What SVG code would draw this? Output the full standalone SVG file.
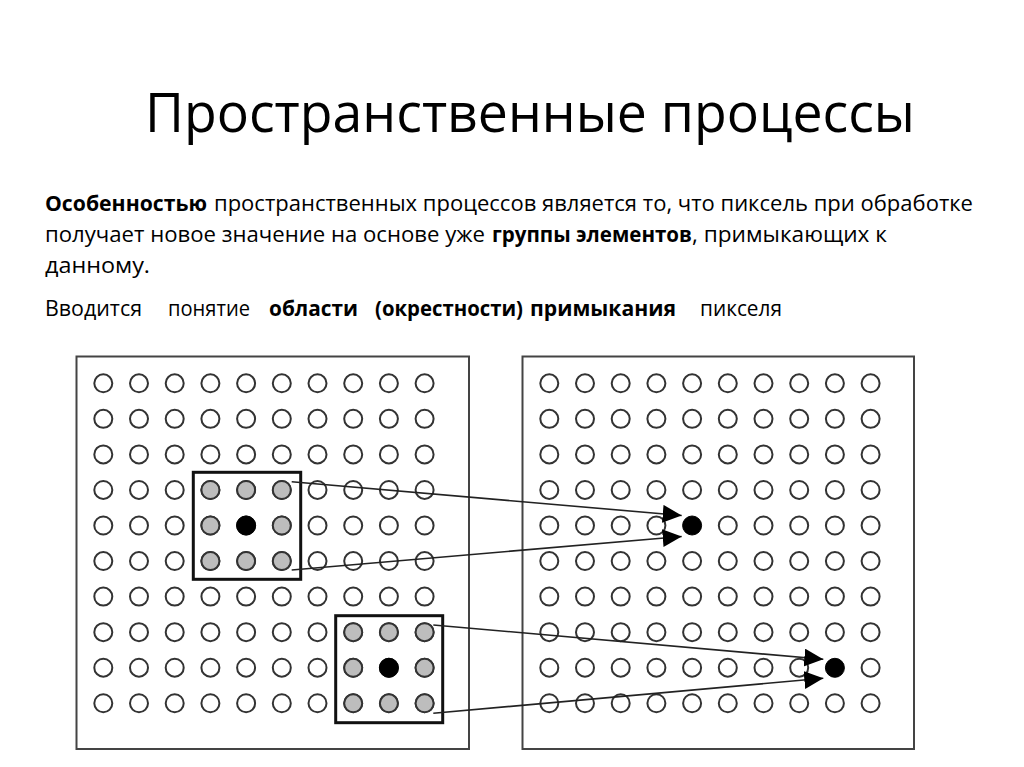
<svg xmlns="http://www.w3.org/2000/svg" xmlns:xlink="http://www.w3.org/1999/xlink" width="1024" height="767" viewBox="0 0 1024 767">
<style>
.t{font-family:"Open Sans","Noto Sans","Liberation Sans",sans-serif;fill:#000}
.title{font-size:55px}
.b{font-size:21px}
.bold{font-weight:bold}
.p{fill:#fff;stroke:#333;stroke-width:2}
.g{fill:#bdbdbd;stroke:#333;stroke-width:2}
.k{fill:#000;stroke:#000;stroke-width:1}
.frame{fill:none;stroke:#444;stroke-width:2}
.win{fill:none;stroke:#111;stroke-width:3}
.c{stroke:#222;stroke-width:1.6;fill:none;marker-end:url(#ah)}
</style>
<defs>
<marker id="ah" markerUnits="userSpaceOnUse" markerWidth="22" markerHeight="20" refX="19" refY="9" orient="auto">
<path d="M0,0 L19,9 L0,18 z" fill="#000"/>
</marker>
<g id="row">
<circle class="p" cx="0" cy="0" r="9"/>
<circle class="p" cx="35.7" cy="0" r="9"/>
<circle class="p" cx="71.4" cy="0" r="9"/>
<circle class="p" cx="107.1" cy="0" r="9"/>
<circle class="p" cx="142.8" cy="0" r="9"/>
<circle class="p" cx="178.5" cy="0" r="9"/>
<circle class="p" cx="214.2" cy="0" r="9"/>
<circle class="p" cx="249.9" cy="0" r="9"/>
<circle class="p" cx="285.6" cy="0" r="9"/>
<circle class="p" cx="321.3" cy="0" r="9"/>
</g>
<g id="grid">
<use xlink:href="#row" href="#row" x="0" y="0"/>
<use xlink:href="#row" href="#row" x="0" y="35.55"/>
<use xlink:href="#row" href="#row" x="0" y="71.1"/>
<use xlink:href="#row" href="#row" x="0" y="106.65"/>
<use xlink:href="#row" href="#row" x="0" y="142.2"/>
<use xlink:href="#row" href="#row" x="0" y="177.75"/>
<use xlink:href="#row" href="#row" x="0" y="213.3"/>
<use xlink:href="#row" href="#row" x="0" y="248.85"/>
<use xlink:href="#row" href="#row" x="0" y="284.4"/>
<use xlink:href="#row" href="#row" x="0" y="319.95"/>
</g>
</defs>
<rect width="1024" height="767" fill="#fff"/>

<g id="title">
<text class="t title" x="145" y="132" textLength="770" lengthAdjust="spacingAndGlyphs">Пространственные процессы</text>
</g>

<g id="body">
<text class="t b bold" x="45" y="211" textLength="162" lengthAdjust="spacingAndGlyphs">Особенностью</text>
<text class="t b" x="214" y="211" textLength="759" lengthAdjust="spacingAndGlyphs">пространственных процессов является то, что пиксель при обработке</text>
<text class="t b" x="45" y="242" textLength="440" lengthAdjust="spacingAndGlyphs">получает новое значение на основе уже</text>
<text class="t b bold" x="492" y="242" textLength="200" lengthAdjust="spacingAndGlyphs">группы элементов</text>
<text class="t b" x="692" y="242" textLength="195" lengthAdjust="spacingAndGlyphs">, примыкающих к</text>
<text class="t b" x="45" y="273" textLength="105" lengthAdjust="spacingAndGlyphs">данному.</text>
<text class="t b" x="45" y="316" textLength="97" lengthAdjust="spacingAndGlyphs">Вводится</text>
<text class="t b" x="168" y="316" textLength="82" lengthAdjust="spacingAndGlyphs">понятие</text>
<text class="t b bold" x="269" y="316" textLength="89" lengthAdjust="spacingAndGlyphs">области</text>
<text class="t b bold" x="375" y="316" textLength="148" lengthAdjust="spacingAndGlyphs">(окрестности)</text>
<text class="t b bold" x="530" y="316" textLength="146" lengthAdjust="spacingAndGlyphs">примыкания</text>
<text class="t b" x="700" y="316" textLength="82" lengthAdjust="spacingAndGlyphs">пикселя</text>
</g>

<g id="left-image">
<rect class="frame" x="76.5" y="356.5" width="392.5" height="392.5"/>
<use xlink:href="#grid" href="#grid" x="103.3" y="383.3"/>
</g>

<g id="window-1">
<circle class="g" cx="210.4" cy="490" r="9"/>
<circle class="g" cx="246.1" cy="490" r="9"/>
<circle class="g" cx="281.8" cy="490" r="9"/>
<circle class="g" cx="210.4" cy="525.5" r="9"/>
<circle class="k" cx="246.1" cy="525.5" r="9.5"/>
<circle class="g" cx="281.8" cy="525.5" r="9"/>
<circle class="g" cx="210.4" cy="561.1" r="9"/>
<circle class="g" cx="246.1" cy="561.1" r="9"/>
<circle class="g" cx="281.8" cy="561.1" r="9"/>
<rect class="win" x="193.3" y="472.3" width="107.4" height="107"/>
</g>

<g id="window-2">
<circle class="g" cx="353.2" cy="632.2" r="9"/>
<circle class="g" cx="388.9" cy="632.2" r="9"/>
<circle class="g" cx="424.6" cy="632.2" r="9"/>
<circle class="g" cx="353.2" cy="667.8" r="9"/>
<circle class="k" cx="388.9" cy="667.8" r="9.5"/>
<circle class="g" cx="424.6" cy="667.8" r="9"/>
<circle class="g" cx="353.2" cy="703.3" r="9"/>
<circle class="g" cx="388.9" cy="703.3" r="9"/>
<circle class="g" cx="424.6" cy="703.3" r="9"/>
<rect class="win" x="335.7" y="615.7" width="107" height="107"/>
</g>

<g id="right-image">
<rect class="frame" x="522.5" y="356.5" width="391.5" height="392.5"/>
<use xlink:href="#grid" href="#grid" x="549.3" y="383.3"/>
</g>

<g id="result-1">
<circle fill="#fff" cx="692.1" cy="525.5" r="11"/>
<circle class="k" cx="692.1" cy="525.5" r="9.5"/>
</g>
<g id="result-2">
<circle fill="#fff" cx="834.9" cy="667.8" r="11"/>
<circle class="k" cx="834.9" cy="667.8" r="9.5"/>
</g>

<g id="connectors">
<line class="c" x1="291.7" y1="481.7" x2="681.7" y2="515.5"/>
<line class="c" x1="291.7" y1="570" x2="681.7" y2="536.5"/>
<line class="c" x1="433.3" y1="625" x2="823.3" y2="659.3"/>
<line class="c" x1="433.3" y1="713.3" x2="823.3" y2="678.3"/>
</g>
</svg>
